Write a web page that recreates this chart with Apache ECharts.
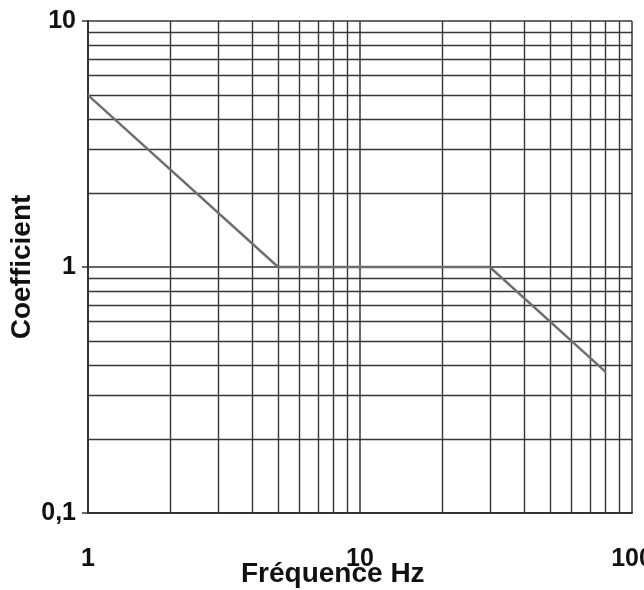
<!DOCTYPE html>
<html>
<head>
<meta charset="utf-8">
<script src="https://cdn.jsdelivr.net/npm/echarts@6/dist/echarts.min.js"></script>
<style>
html,body{margin:0;padding:0;background:#fff;}
#chart{width:644px;height:590px;}
</style>
</head>
<body>
<div id="chart"></div>
<script>
// Data
const freqHz = [1, 5, 30, 80];
const coefficient = [5, 1, 1, 0.375];
const xTickLabels = ['1', '10', '100'];
const yTickLabels = ['0,1', '1', '10'];
const xMinorGrid = [2, 3, 4, 5, 6, 7, 8, 9, 20, 30, 40, 50, 60, 70, 80, 90];
const yMinorGrid = [0.2, 0.3, 0.4, 0.5, 0.6, 0.7, 0.8, 0.9, 2, 3, 4, 5, 6, 7, 8, 9];

const FONT = 'Liberation Sans, Arial, sans-serif';
const lineData = freqHz.map((f, i) => [f, coefficient[i]]);
const gridColor = '#363636';

const chart = echarts.init(document.getElementById('chart'), null, {renderer: 'canvas'});
chart.setOption({
  animation: false,
  backgroundColor: '#fff',
  title: {
    text: 'Fréquence Hz',
    left: 241,
    top: 560,
    padding: 0,
    textStyle: {fontSize: 28, fontWeight: 'bold', fontFamily: FONT, color: '#111'}
  },
  grid: {left: 88, right: 12, top: 21, bottom: 77, containLabel: false, outerBoundsMode: 'none'},
  xAxis: {
    type: 'log',
    logBase: 10,
    min: 1,
    max: 100,
    axisLine: {show: true, onZero: false, lineStyle: {color: '#333', width: 2}},
    axisTick: {show: false},
    axisLabel: {
      margin: 34,
      fontSize: 25,
      fontWeight: 'bold',
      fontFamily: FONT,
      color: '#111',
      showMinLabel: true,
      showMaxLabel: true,
      hideOverlap: false,
      formatter: function (v) {
        const idx = Math.round(Math.log10(v));
        return xTickLabels[idx] !== undefined ? xTickLabels[idx] : '';
      }
    },
    splitLine: {show: true, lineStyle: {color: gridColor, width: 1.5}},
    minorTick: {show: false},
    minorSplitLine: {show: false}
  },
  yAxis: {
    type: 'log',
    logBase: 10,
    min: 0.1,
    max: 10,
    name: 'Coefficient',
    nameLocation: 'middle',
    nameGap: 52,
    nameMoveOverlap: false,
    nameTextStyle: {fontSize: 28, fontWeight: 'bold', fontFamily: FONT, color: '#111'},
    axisLine: {show: true, onZero: false, lineStyle: {color: '#333', width: 2}},
    axisTick: {show: true, inside: false, length: 6, lineStyle: {color: '#333', width: 1.5}},
    axisLabel: {
      margin: 12,
      fontSize: 25,
      fontWeight: 'bold',
      fontFamily: FONT,
      color: '#111',
      formatter: function (v) {
        const idx = Math.round(Math.log10(v)) + 1;
        return yTickLabels[idx] !== undefined ? yTickLabels[idx] : '';
      }
    },
    splitLine: {show: true, lineStyle: {color: gridColor, width: 1.5}}
  },
  series: [
    {
      type: 'line',
      data: lineData,
      z: 1,
      silent: true,
      symbol: 'none',
      lineStyle: {opacity: 0},
      markLine: {
        silent: true,
        symbol: 'none',
        label: {show: false},
        animation: false,
        lineStyle: {color: gridColor, width: 1.4, type: 'solid'},
        data: xMinorGrid.map(v => ({xAxis: v})).concat(yMinorGrid.map(v => ({yAxis: v})))
      }
    },
    {
      type: 'line',
      data: lineData,
      z: 5,
      symbol: 'none',
      lineStyle: {color: '#6e6e6e', width: 2.4}
    }
  ]
});
</script>
</body>
</html>
